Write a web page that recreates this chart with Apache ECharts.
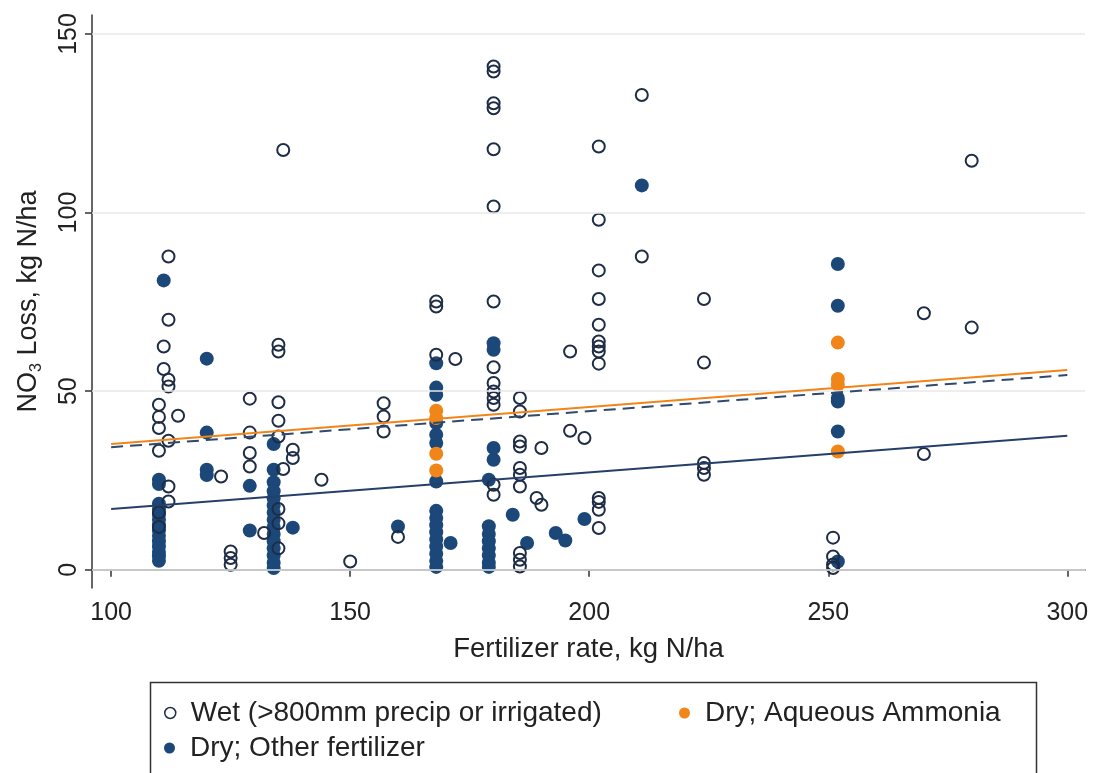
<!DOCTYPE html>
<html>
<head>
<meta charset="utf-8">
<script src="https://cdn.jsdelivr.net/npm/echarts@6/dist/echarts.min.js"></script>
<style>
  html, body { margin: 0; padding: 0; background: #fff; }
  #chart { width: 1093px; height: 773px; }
</style>
</head>
<body>
<div id="chart"></div>
<script>
'use strict'
/*--data--*/
var xTicks = [100, 150, 200, 250, 300];
var yTicks = [0, 50, 100, 150];

var wetPoints = [
	[110, 46.2], [110, 42.8], [110, 39.7], [110, 33.3], [110, 16], [110, 12],
	[111, 62.5], [111, 56.2],
	[112, 87.7], [112, 70.0], [112, 53.2], [112, 51.3], [112, 36.1], [112, 23.3], [112, 19.1],
	[114, 43.1], [123, 26.1],
	[125, 5.1], [125, 3.3], [125, 1.4],
	[129, 47.9], [129, 38.4], [129, 32.7], [129, 28.9],
	[132, 10.3],
	[135, 63.0], [135, 61.1], [135, 46.9], [135, 41.7], [135, 37.3], [136, 28.2], [136, 117.5],
	[135, 17], [135, 13], [135, 6],
	[138, 33.6], [138, 31.3],
	[144, 25.2], [150, 2.3],
	[157, 46.6], [157, 42.9], [157, 38.7],
	[160, 9.2],
	[168, 75.1], [168, 73.7], [168, 60.2],
	[172, 59.0],
	[180, 140.9], [180, 139.5], [180, 130.6], [180, 129.2], [180, 117.7], [180, 101.7], [180, 75.1],
	[180, 56.7], [180, 52.3], [180, 49.9], [180, 48.1], [180, 46.2], [180, 23.8], [180, 21.0],
	[185.5, 48.1], [185.5, 44.3], [185.5, 35.9], [185.5, 34.5], [185.5, 28.5], [185.5, 26.6], [185.5, 23.3],
	[185.5, 4.7], [185.5, 2.8], [185.5, 0.9],
	[189, 20.1], [190, 18.2], [190, 34.1],
	[196, 61.1], [196, 38.9], [199, 36.9],
	[202, 118.5], [202, 98], [202, 83.8], [202, 75.8], [202, 68.6], [202, 63.9], [202, 62.5], [202, 61.1],
	[202, 57.7], [202, 20.1], [202, 19.0], [202, 16.8], [202, 11.7],
	[211, 132.9], [211, 87.7],
	[224, 75.8], [224, 58.0], [224, 29.9], [224, 28.5], [224, 26.6],
	[251, 9.0], [251, 3.7], [251, 1.5], [251, 0.5],
	[270, 71.8], [270, 32.4],
	[280, 114.5], [280, 67.8]
];

var dryOtherPoints = [
	[110, 25.2], [110, 24], [110, 18.5], [110, 17], [110, 15.5], [110, 14], [110, 12.5], [110, 11],
	[110, 9.5], [110, 8], [110, 6.5], [110, 5], [110, 3.8], [110, 2.5],
	[111, 81.0],
	[120, 59.1], [120, 38.4], [120, 28.0], [120, 26.5],
	[129, 23.5], [129, 11.0],
	[134, 35.2], [134, 28.0], [134, 24.5], [134, 22], [134, 20], [134, 18], [134, 16], [134, 14],
	[134, 12], [134, 10], [134, 8], [134, 6], [134, 4], [134, 2], [134, 0.5],
	[138, 11.8], [160, 12.1],
	[168, 57.8], [168, 51.0], [168, 49], [168, 41.1], [168, 37.8], [168, 35.5], [168, 24.7],
	[168, 16.5], [168, 14.5], [168, 12.5], [168, 10.5], [168, 8.5], [168, 6.5], [168, 4.5], [168, 2.5], [168, 0.8],
	[171, 7.5],
	[180, 63.4], [180, 61.6], [180, 34.1], [180, 30.8],
	[179, 25.2], [179, 12.2], [179, 10], [179, 8], [179, 6], [179, 4], [179, 2], [179, 0.8],
	[184, 15.4], [187, 7.5], [193, 10.3], [195, 8.2], [199, 14.2],
	[211, 107.6],
	[252, 85.6], [252, 73.9], [252, 48.1], [252, 47.1], [252, 38.7], [252, 2.3]
];

var dryAqueousPoints = [
	[168, 44.5], [168, 42.5], [168, 32.5], [168, 27.8],
	[252, 63.6], [252, 53.4], [252, 51.8], [252, 33.1]
];

// fitted lines
var fitAqueous = [[100, 35.2], [300, 55.9]];
var fitDryDashed = [[100, 34.3], [300, 54.5]];
var fitWet = [[100, 17.0], [300, 37.5]];
/*--data--*/

var font = 'Liberation Sans, Arial, sans-serif';
var navy = '#1b4878';
var ring = '#1e2d45';
var orange = '#f08519';

var legendText = { fontSize: 28, color: '#222', fontFamily: font, padding: [0, 0, 0, 10] };

var chart = echarts.init(document.getElementById('chart'));
var option = {
	backgroundColor: '#fff',
	animation: false,
	textStyle: { fontFamily: font },
	grid: { left: 92, right: 8, top: 15, bottom: 185 },
	xAxis: {
		type: 'value',
		min: 96,
		max: 303.7,
		name: 'Fertilizer rate, kg N/ha',
		nameLocation: 'middle',
		nameGap: 47,
		nameTextStyle: { fontSize: 27.5, color: '#222', fontFamily: font },
		axisLine: { show: true, lineStyle: { color: '#333', width: 1.5 } },
		axisTick: { show: true, customValues: xTicks, length: 7, lineStyle: { color: '#333', width: 1.5 } },
		axisLabel: { customValues: xTicks, fontSize: 25, color: '#222', margin: 13, fontFamily: font },
		splitLine: { show: false }
	},
	yAxis: {
		type: 'value',
		min: -5.1,
		max: 155.3,
		name: '{n|NO}{s|3}{n| Loss, kg N/ha}',
		nameLocation: 'middle',
		nameGap: 47,
		nameRotate: 90,
		nameTextStyle: {
			rich: {
				n: { fontSize: 27, color: '#222', fontFamily: font, lineHeight: 32 },
				s: { fontSize: 16, color: '#222', fontFamily: font, lineHeight: 17, verticalAlign: 'bottom' }
			}
		},
		axisLine: { show: true, lineStyle: { color: '#333', width: 1.5 } },
		axisTick: { show: true, customValues: yTicks, length: 7, lineStyle: { color: '#333', width: 1.5 } },
		axisLabel: { customValues: yTicks, rotate: 90, fontSize: 25, color: '#222', margin: 10, fontFamily: font },
		splitLine: { show: false }
	},
	legend: [{
		left: 159, top: 694, itemWidth: 11, itemHeight: 11,
		textStyle: legendText,
		data: [{ name: 'Wet (>800mm precip or irrigated)', icon: 'circle',
			itemStyle: { color: '#fff', borderColor: ring, borderWidth: 1.5 } }]
	}, {
		left: 674, top: 694, itemWidth: 11, itemHeight: 11,
		textStyle: legendText,
		data: [{ name: 'Dry; Aqueous Ammonia', icon: 'circle' }]
	}, {
		left: 159, top: 729, itemWidth: 11, itemHeight: 11,
		textStyle: legendText,
		data: [{ name: 'Dry; Other fertilizer', icon: 'circle' }]
	}],
	graphic: [{
		type: 'rect',
		left: 148, top: 680,
		shape: { width: 886, height: 110 },
		style: { fill: 'none', stroke: '#333', lineWidth: 1.5 },
		silent: true
	}],
	series: [{
		name: 'grid',
		type: 'line',
		data: [],
		silent: true,
		z: 0,
		markLine: {
			silent: true,
			symbol: 'none',
			label: { show: false },
			lineStyle: { color: '#e9e9e9', width: 1.5, type: 'solid' },
			data: yTicks.map(function(v) { return { yAxis: v }; })
		}
	}, {
		name: 'Dry; Other fertilizer',
		type: 'scatter',
		data: dryOtherPoints,
		symbol: 'circle',
		symbolSize: 14,
		itemStyle: { color: navy, opacity: 1 },
		z: 2
	}, {
		name: 'Dry; Aqueous Ammonia',
		type: 'scatter',
		data: dryAqueousPoints,
		symbol: 'circle',
		symbolSize: 14,
		itemStyle: { color: orange, opacity: 1 },
		z: 3
	}, {
		name: 'Wet (>800mm precip or irrigated)',
		type: 'scatter',
		data: wetPoints,
		symbol: 'circle',
		symbolSize: 12,
		itemStyle: { color: 'rgba(255,255,255,0)', borderColor: ring, borderWidth: 2, opacity: 1 },
		z: 4
	}, {
		name: 'fitAqueous',
		type: 'line',
		data: fitAqueous,
		symbol: 'none',
		lineStyle: { color: orange, width: 2 },
		z: 5
	}, {
		name: 'fitDryDashed',
		type: 'line',
		data: fitDryDashed,
		symbol: 'none',
		lineStyle: { color: '#2e4a6e', width: 2, type: [12, 7] },
		z: 5
	}, {
		name: 'fitWet',
		type: 'line',
		data: fitWet,
		symbol: 'none',
		lineStyle: { color: '#253f6b', width: 2 },
		z: 5
	}]
};
chart.setOption(option);
</script>
</body>
</html>
